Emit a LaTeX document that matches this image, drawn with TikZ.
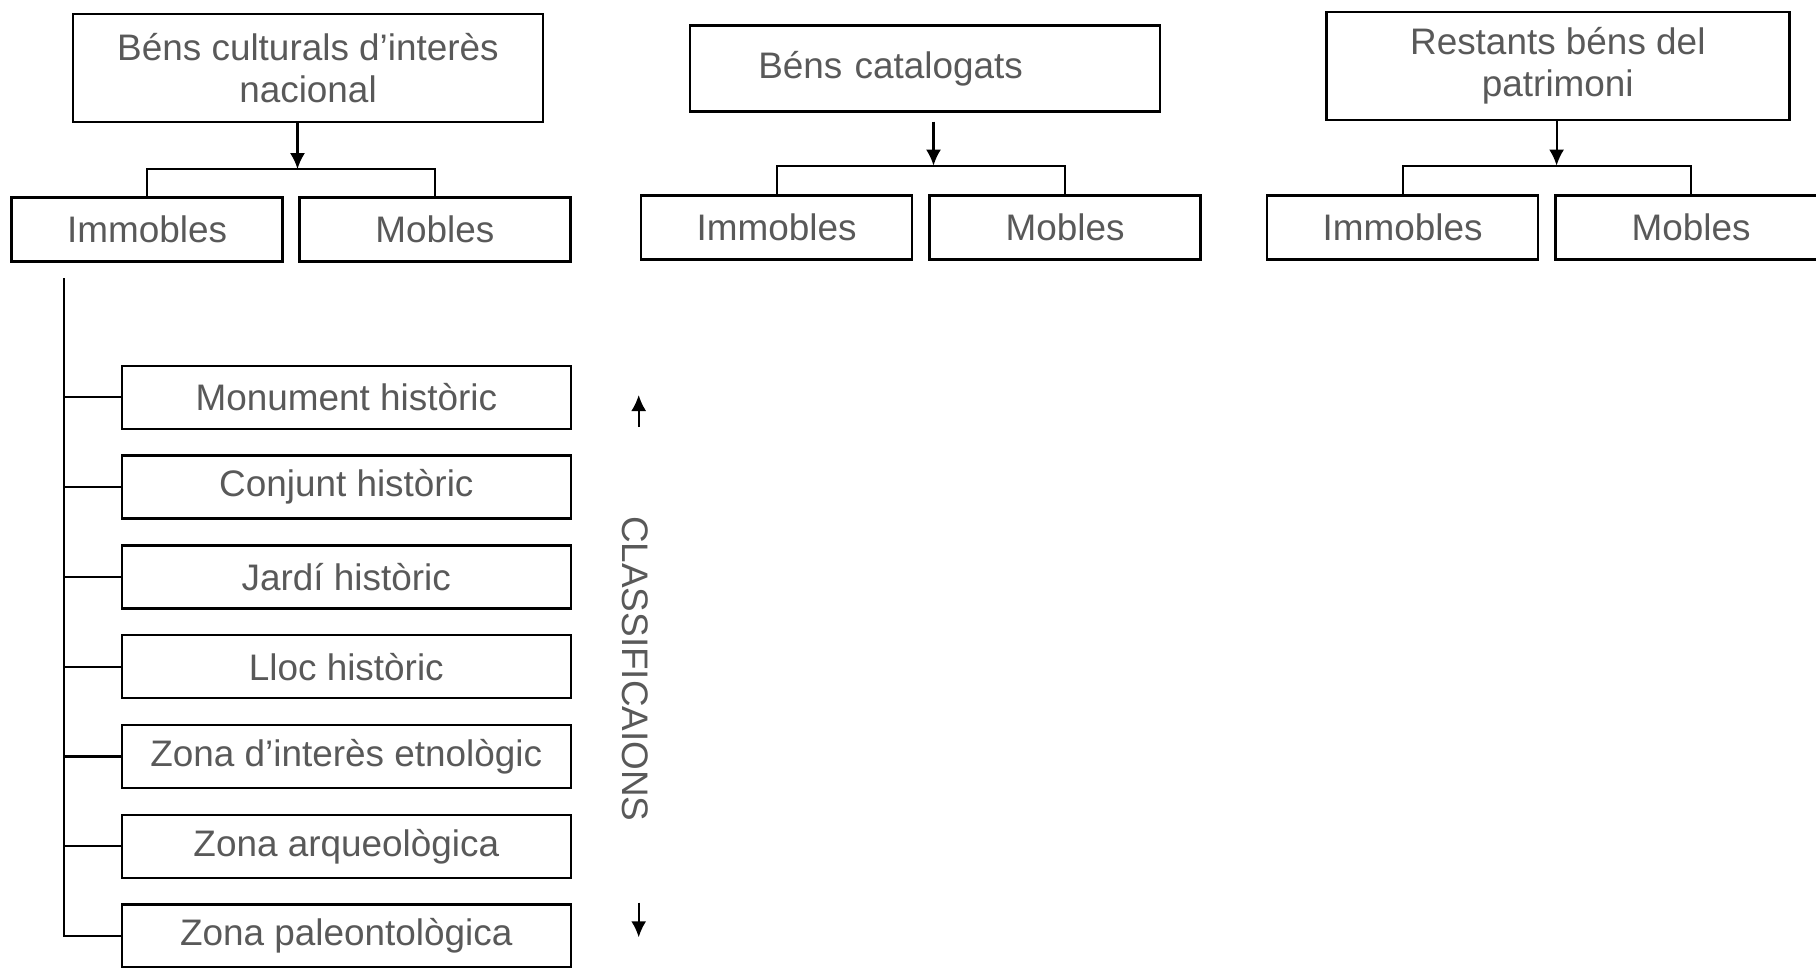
\documentclass[tikz,border=0pt]{standalone}
\usepackage{fontspec}
\setmainfont{Liberation Sans}
\usepackage{xcolor}
\usepackage{tikz}
\usetikzlibrary{arrows.meta, positioning, calc}

\definecolor{txtgray}{HTML}{595959}

\tikzset{
  box/.style={draw, rectangle, line width=0.7pt, inner sep=0pt, text=txtgray,
    font=\fontsize{10.5}{12}\selectfont, align=center},
  topbox/.style={box, minimum width=4.7cm, minimum height=1.08cm},
  subbox/.style={box, minimum width=2.71cm, minimum height=6.4mm},
  classbox/.style={box, minimum width=4.49cm, minimum height=6.3mm},
  wire/.style={line width=0.6pt},
  >={Latex[length=1.6mm,width=1.5mm]}
}

\begin{document}
\begin{tikzpicture}
    \useasboundingbox (0,0) rectangle (18.16,-9.67);

    % top level
    \node[topbox] (bnac) at (3.080,-0.678) {Béns culturals d’interès\\nacional};
    \node[topbox, minimum height=8.6mm, text width=33.3mm, inner xsep=6.83mm, align=left] (bcat) at (9.248,-0.683) {Béns catalogats};
    \node[topbox, minimum width=4.63cm] (rest) at (15.578,-0.660) {Restants béns del\\patrimoni};

    % immobles / mobles
    \node[subbox] (imm1) at (1.471,-2.293) {Immobles};
    \node[subbox] (mob1) at (4.349,-2.293) {Mobles};
    \node[subbox] (imm2) at (7.766,-2.276) {Immobles};
    \node[subbox] (mob2) at (10.650,-2.276) {Mobles};
    \node[subbox] (imm3) at (14.026,-2.276) {Immobles};
    \node[subbox] (mob3) at (16.910,-2.276) {Mobles};

    \coordinate (j1) at (2.975,-1.691);
    \coordinate (j2) at (9.335,-1.656);
    \coordinate (j3) at (15.566,-1.656);

    \draw[wire,->] (bnac.south -| j1) -- (j1);
    \draw[wire,->,shorten <=0.9mm] (bcat.south -| j2) -- (j2);
    \draw[wire,->] (rest.south -| j3) -- (j3);

    \draw[wire] (imm1.north) |- (j1) -| (mob1.north);
    \draw[wire] (imm2.north) |- (j2) -| (mob2.north);
    \draw[wire] (imm3.north) |- (j3) -| (mob3.north);

    % classificacions
    \node[classbox] (c1) at (3.463,-3.973) {Monument històric};
    \node[classbox] (c2) at (3.463,-4.871) {Conjunt històric};
    \node[classbox] (c3) at (3.463,-5.769) {Jardí històric};
    \node[classbox] (c4) at (3.463,-6.667) {Lloc històric};
    \node[classbox] (c5) at (3.463,-7.565) {Zona d’interès etnològic};
    \node[classbox] (c6) at (3.463,-8.463) {Zona arqueològica};
    \node[classbox] (c7) at (3.463,-9.361) {Zona paleontològica};

    \coordinate (trunk) at (0.637,-2.78);
    \draw[wire] (trunk) |- (c7.west);
    \draw[wire] (trunk |- c1.west) -- (c1.west);
    \draw[wire] (trunk |- c2.west) -- (c2.west);
    \draw[wire] (trunk |- c3.west) -- (c3.west);
    \draw[wire] (trunk |- c4.west) -- (c4.west);
    \draw[wire] (trunk |- c5.west) -- (c5.west);
    \draw[wire] (trunk |- c6.west) -- (c6.west);

    \node[rotate=-90, inner sep=0pt, text=txtgray, font=\fontsize{10.5}{12}\selectfont] (cls) at (6.347,-6.688) {CLASSIFICAIONS};
    \draw[wire,->] (cls) ++(0.04,2.418) -- ++(0,0.32);
    \draw[wire,->] (cls) ++(0.04,-2.339) -- ++(0,-0.346);
  \end{tikzpicture}
\end{document}
